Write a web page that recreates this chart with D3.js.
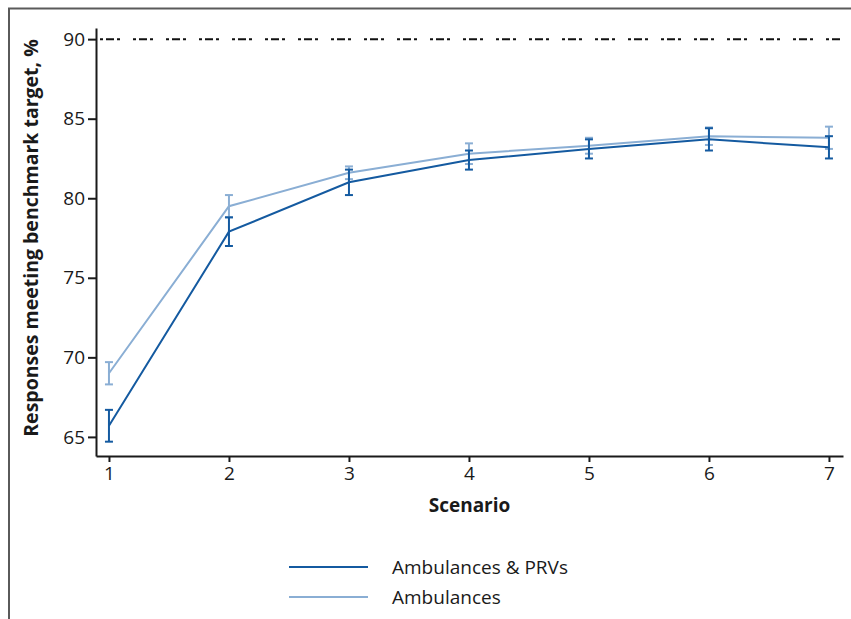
<!DOCTYPE html>
<html>
<head>
<meta charset="utf-8">
<script src="https://cdn.jsdelivr.net/npm/d3@7"></script>
<style>
  body { margin: 0; background: #fff; }
  svg { display: block; font-family: "Open Sans", "Noto Sans", sans-serif; }
</style>
</head>
<body>
<div id="chart"></div>
<script>
// ---------------- data ----------------
const scenarios = [1, 2, 3, 4, 5, 6, 7];
const yTicks = [65, 70, 75, 80, 85, 90];
const benchmark = 90;

const seriesNames = ['Ambulances & PRVs', 'Ambulances'];
const prvValues = [65.7, 77.9, 81.0, 82.4, 83.1, 83.7, 83.2];
const prvErrors = [1.0, 0.9, 0.8, 0.6, 0.6, 0.7, 0.7];
const ambValues = [69.0, 79.5, 81.6, 82.8, 83.3, 83.9, 83.8];
const ambErrors = [0.7, 0.7, 0.4, 0.65, 0.5, 0.55, 0.7];

// ---------------- layout ----------------
const totalWidth = 851, totalHeight = 619;
const margins = { top: 28, right: 8, bottom: 163, left: 96 };
const settings = {
  color: {
    dark: '#145aa0',
    light: '#8aaed4',
    axis: '#1a1a1a',
    frame: '#5a5a5a'
  },
  font: '"Open Sans", sans-serif'
};

const svg = d3.select('#chart').append('svg')
  .attr('width', totalWidth)
  .attr('height', totalHeight);

// outer frame (top + left only)
svg.append('path')
  .attr('d', 'M9,' + totalHeight + ' V8.5 H' + totalWidth)
  .attr('fill', 'none')
  .attr('stroke', settings.color.frame)
  .attr('stroke-width', 2);

// ---------------- scales ----------------
const xScale = d3.scaleLinear()
  .domain([0.892, 7.117])
  .range([margins.left, totalWidth - margins.right]);

const yScale = d3.scaleLinear()
  .domain([63.8, 90.7])
  .range([totalHeight - margins.bottom, margins.top]);

// ---------------- axes ----------------
const xAxis = d3.axisBottom(xScale)
  .tickValues(scenarios)
  .tickFormat(d3.format('d'))
  .tickSize(6).tickPadding(5).tickSizeOuter(0);
const xAxisView = svg.append('g')
  .attr('transform', 'translate(0,' + yScale.range()[0] + ')')
  .call(xAxis);

const yAxis = d3.axisLeft(yScale).tickValues(yTicks).tickSize(8).tickPadding(3).tickSizeOuter(0);
const yAxisView = svg.append('g')
  .attr('transform', 'translate(' + margins.left + ',0)')
  .call(yAxis);

[xAxisView, yAxisView].forEach(function(v){
  v.selectAll('path').attr('stroke', settings.color.axis).attr('stroke-width', 2);
  v.selectAll('line').attr('stroke', settings.color.axis).attr('stroke-width', 2);
  v.selectAll('text')
    .attr('fill', settings.color.axis)
    .style('font-size', '19px')
    .style('font-family', settings.font);
});

// axis titles
svg.append('text')
  .attr('x', (xScale.range()[0] + xScale.range()[1]) / 2)
  .attr('y', 512)
  .attr('text-anchor', 'middle')
  .style('font-size', '19px')
  .style('font-weight', 'bold')
  .attr('fill', settings.color.axis)
  .text('Scenario');

svg.append('text')
  .attr('transform', 'translate(38,' + 238 + ') rotate(-90)')
  .attr('text-anchor', 'middle')
  .style('font-size', '19.5px')
  .style('font-weight', 'bold')
  .attr('fill', settings.color.axis)
  .text('Responses meeting benchmark target, %');

// benchmark line
svg.append('line')
  .attr('x1', xScale.range()[0] + 4)
  .attr('x2', xScale.range()[1])
  .attr('y1', yScale(benchmark))
  .attr('y2', yScale(benchmark))
  .attr('stroke', '#111')
  .attr('stroke-width', 2)
  .attr('stroke-dasharray', '3,3,8,3,3,13');

// ---------------- series ----------------
const series = [
  { name: seriesNames[1], values: ambValues, errors: ambErrors, color: settings.color.light },
  { name: seriesNames[0], values: prvValues, errors: prvErrors, color: settings.color.dark }
];

const line = d3.line()
  .x(function(d){ return xScale(d.x); })
  .y(function(d){ return yScale(d.y); });

const capHalf = 4;

series.forEach(function(s){
  const pts = scenarios.map(function(x, i){ return { x: x, y: s.values[i], e: s.errors[i] }; });
  const g = svg.append('g');

  g.append('path')
    .datum(pts)
    .attr('d', line)
    .attr('fill', 'none')
    .attr('stroke', s.color)
    .attr('stroke-width', 2);

  const bars = g.selectAll('g.err')
    .data(pts)
    .enter()
    .append('g')
    .attr('class', 'err');

  bars.append('line')
    .attr('x1', function(d){ return xScale(d.x); })
    .attr('x2', function(d){ return xScale(d.x); })
    .attr('y1', function(d){ return yScale(d.y + d.e); })
    .attr('y2', function(d){ return yScale(d.y - d.e); })
    .attr('stroke', s.color)
    .attr('stroke-width', 2);

  [1, -1].forEach(function(sign){
    bars.append('line')
      .attr('x1', function(d){ return xScale(d.x) - capHalf; })
      .attr('x2', function(d){ return xScale(d.x) + capHalf; })
      .attr('y1', function(d){ return yScale(d.y + sign * d.e); })
      .attr('y2', function(d){ return yScale(d.y + sign * d.e); })
      .attr('stroke', s.color)
      .attr('stroke-width', 2);
  });
});

// ---------------- legend ----------------
const legend = svg.append('g');
const legendItems = [
  { name: seriesNames[0], color: settings.color.dark },
  { name: seriesNames[1], color: settings.color.light }
];
legendItems.forEach(function(item, i){
  const y = 567 + i * 30;
  legend.append('line')
    .attr('x1', 289).attr('x2', 368)
    .attr('y1', y).attr('y2', y)
    .attr('stroke', item.color)
    .attr('stroke-width', 2);
  legend.append('text')
    .attr('x', 392)
    .attr('y', y)
    .attr('dy', '0.35em')
    .style('font-size', '19px')
    .attr('fill', settings.color.axis)
    .text(item.name);
});
</script>
</body>
</html>
